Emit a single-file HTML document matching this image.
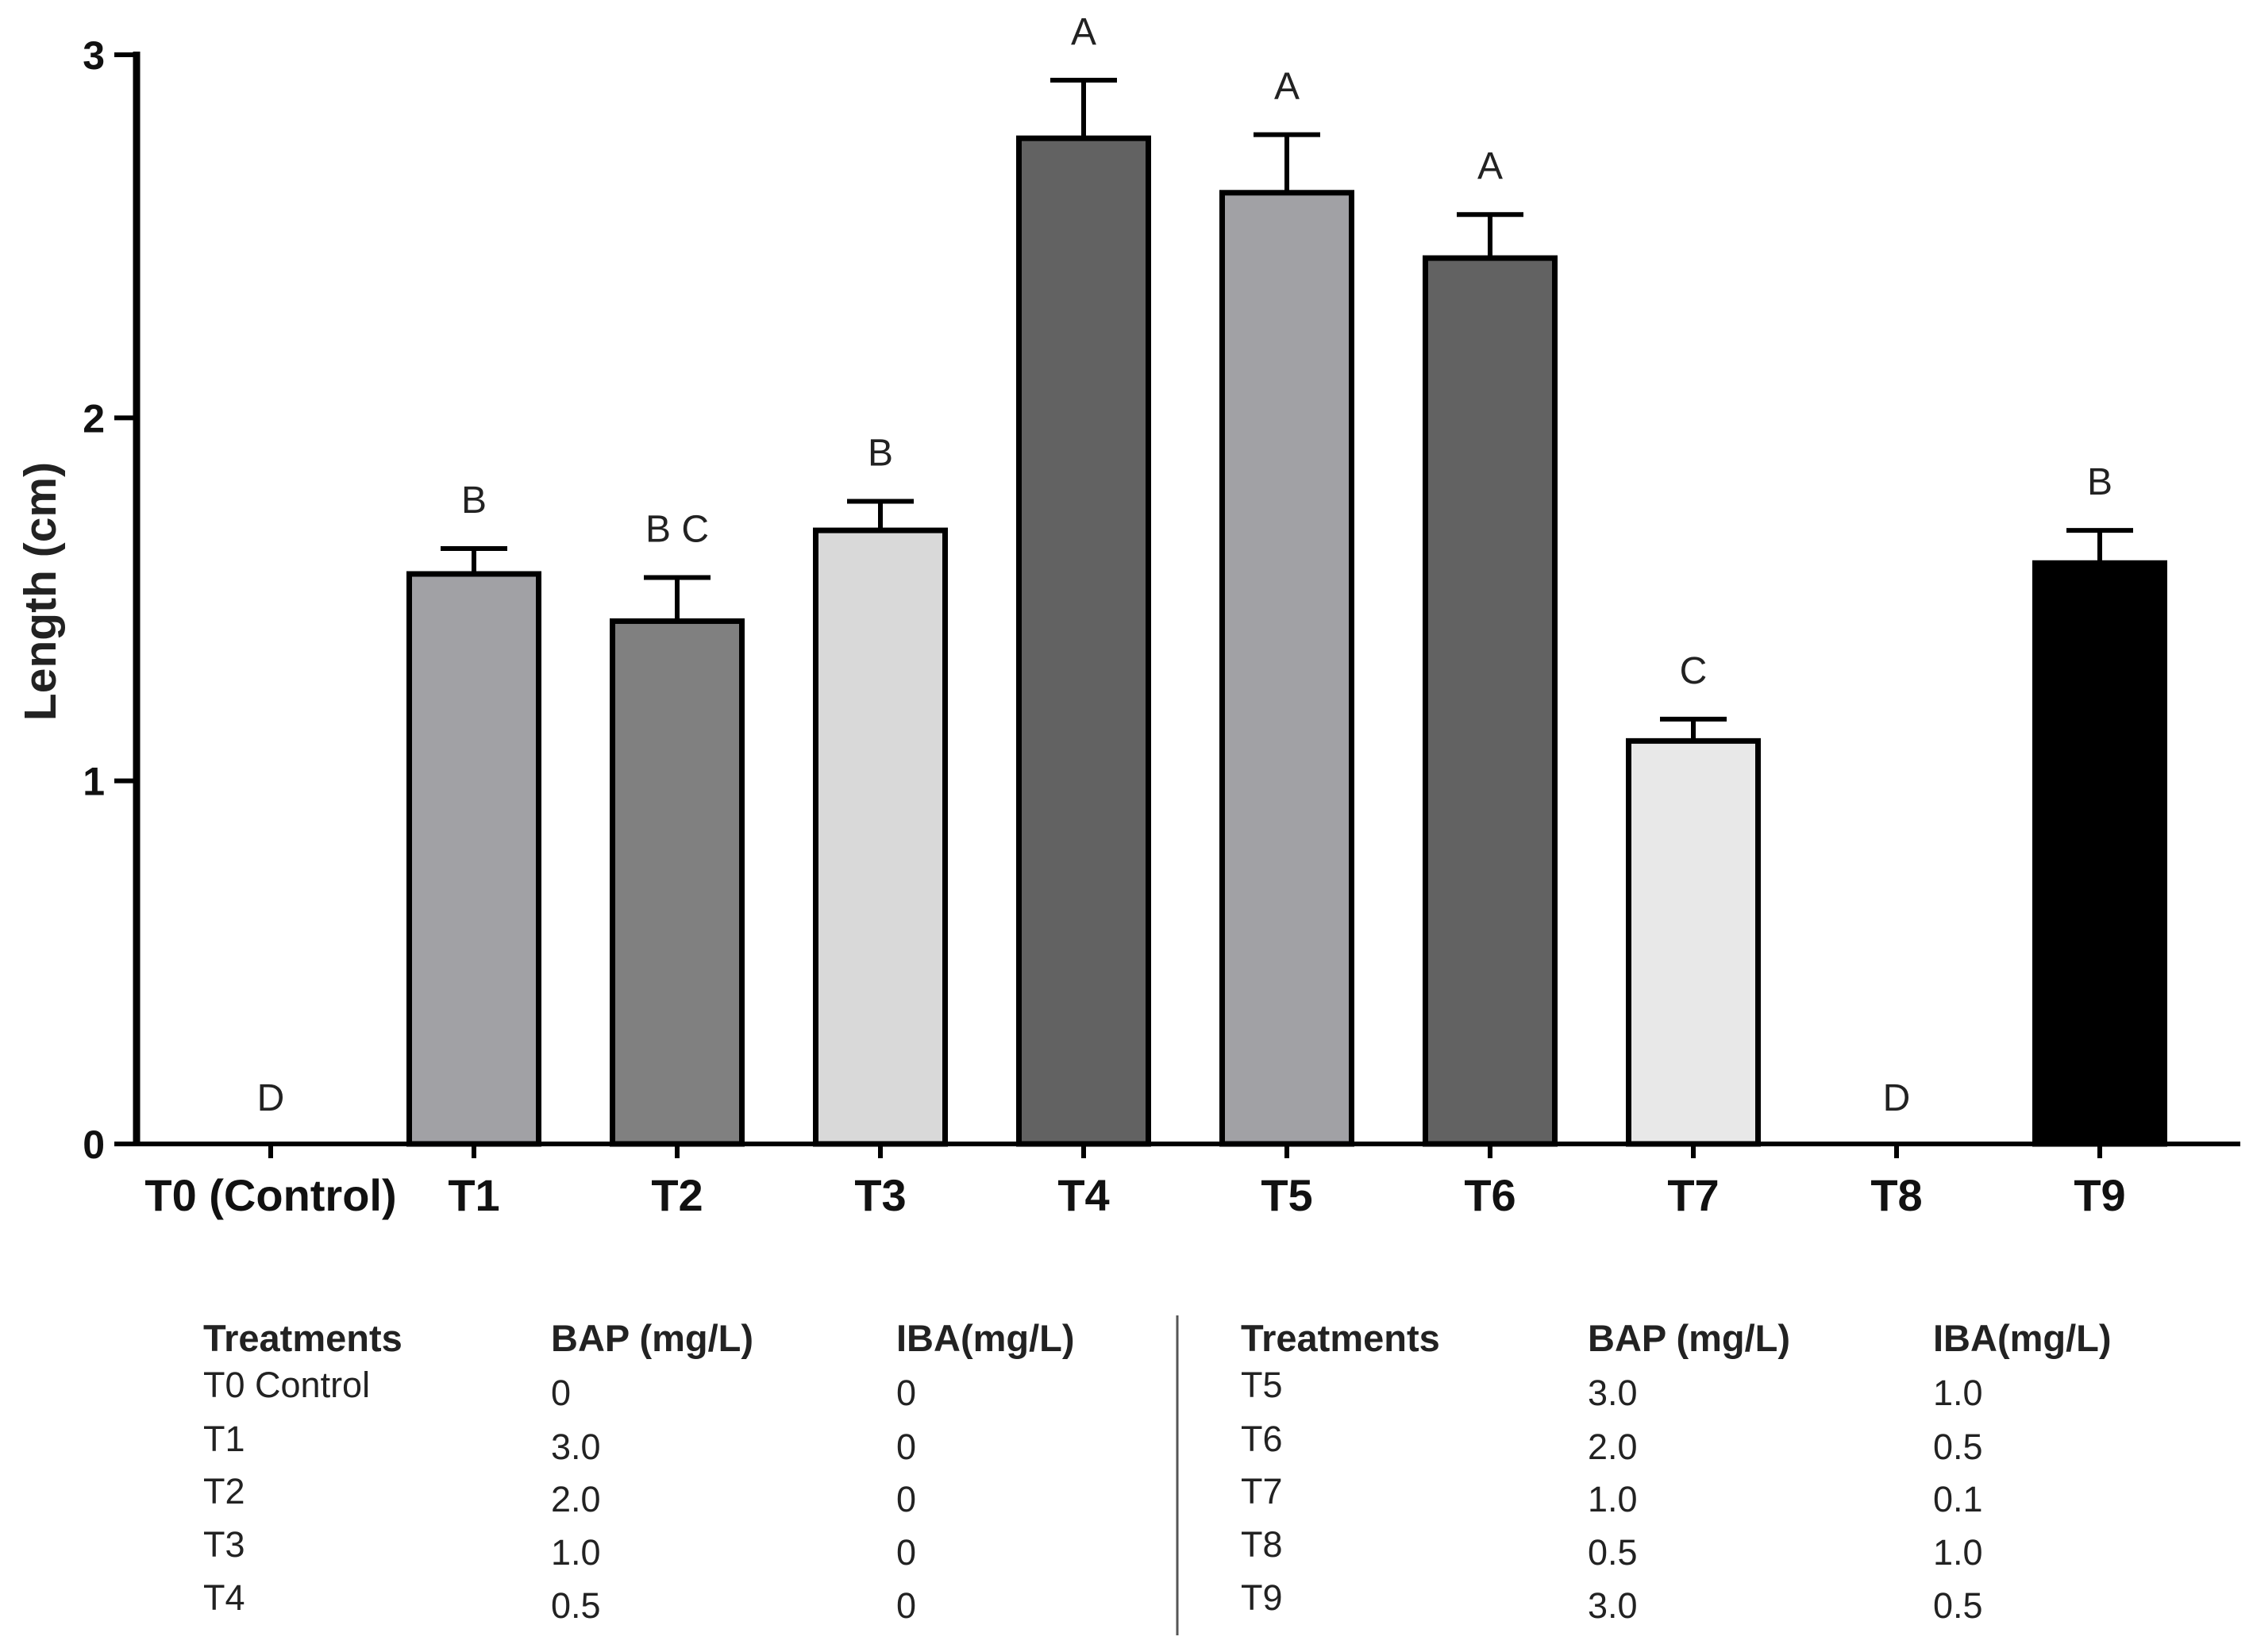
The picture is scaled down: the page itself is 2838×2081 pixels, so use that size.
<!DOCTYPE html>
<html><head><meta charset="utf-8"><style>
body{margin:0;background:#fff;}
svg{display:block;font-family:"Liberation Sans",Arial,sans-serif;}
</style></head><body>
<svg id="chart" width="2838" height="2081" viewBox="0 0 2838 2081">
<g id="plot"></g>
<text x="0" y="0" transform="translate(70,745) rotate(-90)" text-anchor="middle" font-size="57" font-weight="bold" fill="#222">Length (cm)</text>
<g id="table" font-size="45" fill="#222"></g>
</svg>
<script>
const categories=["T0 (Control)","T1","T2","T3","T4","T5","T6","T7","T8","T9"];
const means=[0,1.57,1.44,1.69,2.77,2.62,2.44,1.11,0,1.60];
const errors=[0,0.07,0.12,0.08,0.16,0.16,0.12,0.06,0,0.09];
const letters=["D","B","B C","B","A","A","A","C","D","B"];
const colors=["#fff","#a1a1a5","#808080","#d9d9d9","#626262","#a1a1a5","#626262","#e8e8e8","#fff","#000"];
const yTicks=[0,1,2,3];
const tableLeft=[["T0 Control","0","0"],["T1","3.0","0"],["T2","2.0","0"],["T3","1.0","0"],["T4","0.5","0"]];
const tableRight=[["T5","3.0","1.0"],["T6","2.0","0.5"],["T7","1.0","0.1"],["T8","0.5","1.0"],["T9","3.0","0.5"]];

const NS="http://www.w3.org/2000/svg";
const y0=1441,y3=69,axX=172,axEnd=2822;
const y=v=>y0-(y0-y3)*v/3;
const x=i=>341+256*i;
const bw=163;
const plot=document.getElementById('plot');
function mk(tag,attrs,parent){const e=document.createElementNS(NS,tag);for(const k in attrs)e.setAttribute(k,attrs[k]);parent.appendChild(e);return e;}

means.forEach((m,i)=>{
  if(m>0){
    const r=mk('rect',{x:x(i)-bw/2,y:y(m),width:bw,height:y0-y(m),fill:colors[i],stroke:'#000','stroke-width':7},plot);
    
    
    const e=mk('path',{d:`M${x(i)},${y(m)} V${y(m+errors[i])} M${x(i)-42},${y(m+errors[i])} H${x(i)+42}`,stroke:'#000','stroke-width':6,fill:'none'},plot);
    
    
  }
  const ly=m>0?y(m+errors[i])-45:y0-42;
  const t=mk('text',{x:x(i),y:ly,'text-anchor':'middle','font-size':48,fill:'#222'},plot);
  t.textContent=letters[i];
  
  
  const tk=mk('line',{x1:x(i),x2:x(i),y1:y0,y2:y0+18,stroke:'#000','stroke-width':6},plot);
  
  
  const lb=mk('text',{x:x(i),y:y0+84,'text-anchor':'middle','font-size':56,'font-weight':'bold',fill:'#111'},plot);
  lb.textContent=categories[i];
  
  
});
const ya=mk('line',{x1:axX,x2:axX,y1:y3-4,y2:y0+3,stroke:'#000','stroke-width':9},plot);


const xa=mk('line',{x1:axX-4,x2:axEnd,y1:y0,y2:y0,stroke:'#000','stroke-width':6},plot);


yTicks.forEach(v=>{
  const l=mk('line',{x1:axX-28,x2:axX,y1:y(v),y2:y(v),stroke:'#000','stroke-width':6},plot);
  
  
  const t=mk('text',{x:axX-40,y:y(v)+18,'text-anchor':'end','font-size':50,'font-weight':'bold',fill:'#111'},plot);
  t.textContent=v;
  
  
});
const tb=document.getElementById('table');
const rowsY=[1768,1836,1902,1969,2036];
function drawTable(rows,cols){
  ["Treatments","BAP (mg/L)","IBA(mg/L)"].forEach((h,c)=>{
    const t=mk('text',{x:cols[c],y:1702,'font-weight':'bold','font-size':47},tb);
    t.textContent=h;
    
    
  });
  rows.forEach((r,ri)=>r.forEach((v,c)=>{
    const t=mk('text',{x:cols[c],y:rowsY[ri]+(c===0?-8:2)},tb);
    t.textContent=v;
    
    
  }));
}
drawTable(tableLeft,[256,694,1129]);
drawTable(tableRight,[1563,2000,2435]);
const dv=mk('line',{x1:1483,x2:1483,y1:1657,y2:2060,stroke:'#555','stroke-width':3},tb);


</script>
</body></html>
